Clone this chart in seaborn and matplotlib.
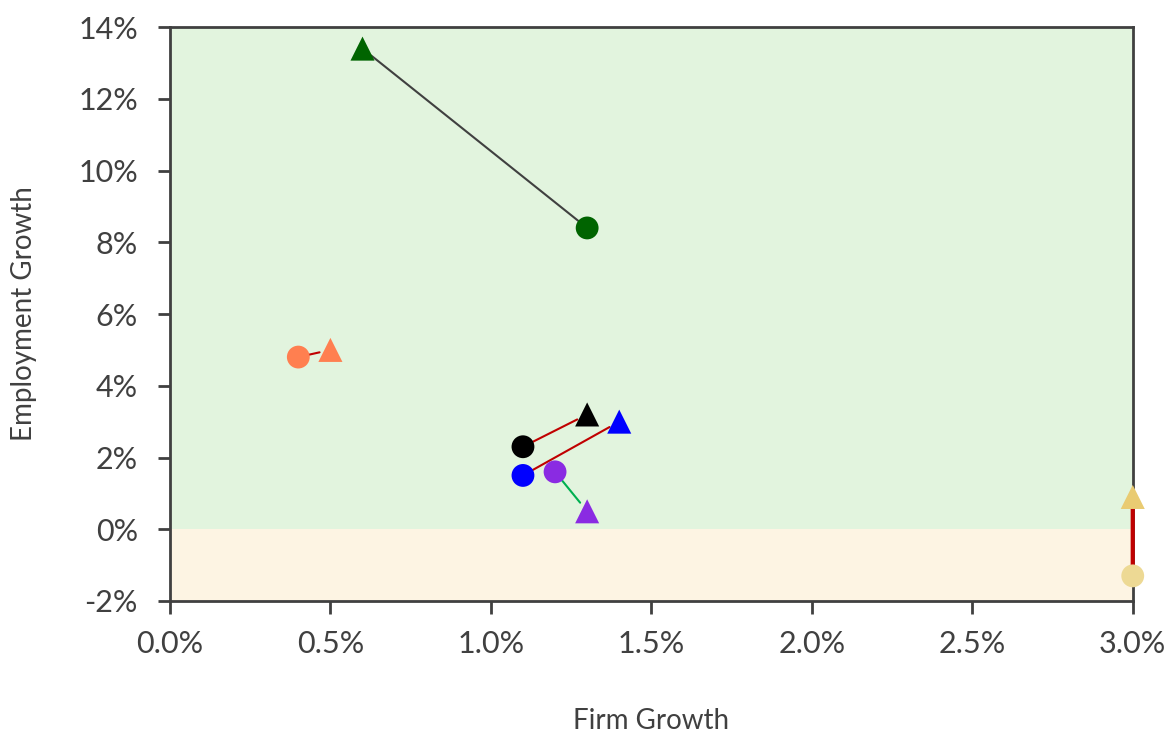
import matplotlib
matplotlib.use('Agg')
import matplotlib.pyplot as plt
import seaborn as sns
import pandas as pd
from matplotlib.ticker import FuncFormatter

# data (percent)
groups = ['A', 'B', 'C', 'D', 'E', 'F']
firm_start = [1.3, 0.4, 1.1, 1.1, 1.2, 3.0]
emp_start = [8.4, 4.8, 2.3, 1.5, 1.6, -1.3]
firm_end = [0.6, 0.5, 1.3, 1.4, 1.3, 3.0]
emp_end = [13.4, 5.0, 3.2, 3.0, 0.5, 0.9]

circle_colors = ['#006400', '#FF7F50', '#000000', '#0000FF', '#8A2BE2', '#EDD994']
triangle_colors = ['#006400', '#FF7F50', '#000000', '#0000FF', '#8A2BE2', '#E9CB72']
line_colors = ['#404040', '#C00000', '#C00000', '#C00000', '#00B050', '#C00000']
line_widths = [1.5, 1.5, 1.5, 1.5, 1.5, 3]

sns.set_style('white')
plt.rcParams['font.family'] = ['Lato', 'DejaVu Sans']

fig = plt.figure(figsize=(11.72, 7.32), dpi=100)
ax = fig.add_axes([0.145, 0.179, 0.8215, 0.784])

ax.set_xlim(0, 3.0)
ax.set_ylim(-2, 14)

# background bands
ax.axhspan(0, 14, color='#E2F4DE', zorder=0, lw=0)
ax.axhspan(-2, 0, color='#FDF4E3', zorder=0, lw=0)

# connecting lines
for i in range(len(groups)):
    ann = ax.annotate('', xy=(firm_end[i], emp_end[i]), xytext=(firm_start[i], emp_start[i]),
                      arrowprops=dict(arrowstyle='-', color=line_colors[i], lw=line_widths[i],
                                      shrinkA=3, shrinkB=8), zorder=2.6, annotation_clip=False)
    ann.arrow_patch.set_clip_on(False)

df_start = pd.DataFrame({'firm': firm_start, 'emp': emp_start, 'g': groups})
df_end = pd.DataFrame({'firm': firm_end, 'emp': emp_end, 'g': groups})

sns.scatterplot(data=df_start, x='firm', y='emp', hue='g', palette=circle_colors,
                marker='o', s=270, edgecolor='none', legend=False, ax=ax, zorder=3, clip_on=False)
sns.scatterplot(data=df_end, x='firm', y='emp', hue='g', palette=triangle_colors,
                marker='^', s=300, edgecolor='none', legend=False, ax=ax, zorder=3, clip_on=False)

ax.set_xticks([0, 0.5, 1.0, 1.5, 2.0, 2.5, 3.0])
ax.set_yticks(range(-2, 15, 2))
ax.xaxis.set_major_formatter(FuncFormatter(lambda v, p: f'{v:.1f}%'))
ax.yaxis.set_major_formatter(FuncFormatter(lambda v, p: f'{v:.0f}%'))

for s in ax.spines.values():
    s.set_color('#404040')
    s.set_linewidth(2)

ax.tick_params(axis='both', which='major', direction='out', length=9, width=2,
               color='#404040', labelcolor='#404040', labelsize=22)
ax.tick_params(axis='x', bottom=True, pad=12)
ax.tick_params(axis='y', left=True, pad=14)

ax.set_xlabel('Firm Growth', fontsize=20, color='#404040', labelpad=36)
ax.set_ylabel('Employment Growth', fontsize=20, color='#404040', labelpad=30)

fig.savefig('out.png', dpi=100)
